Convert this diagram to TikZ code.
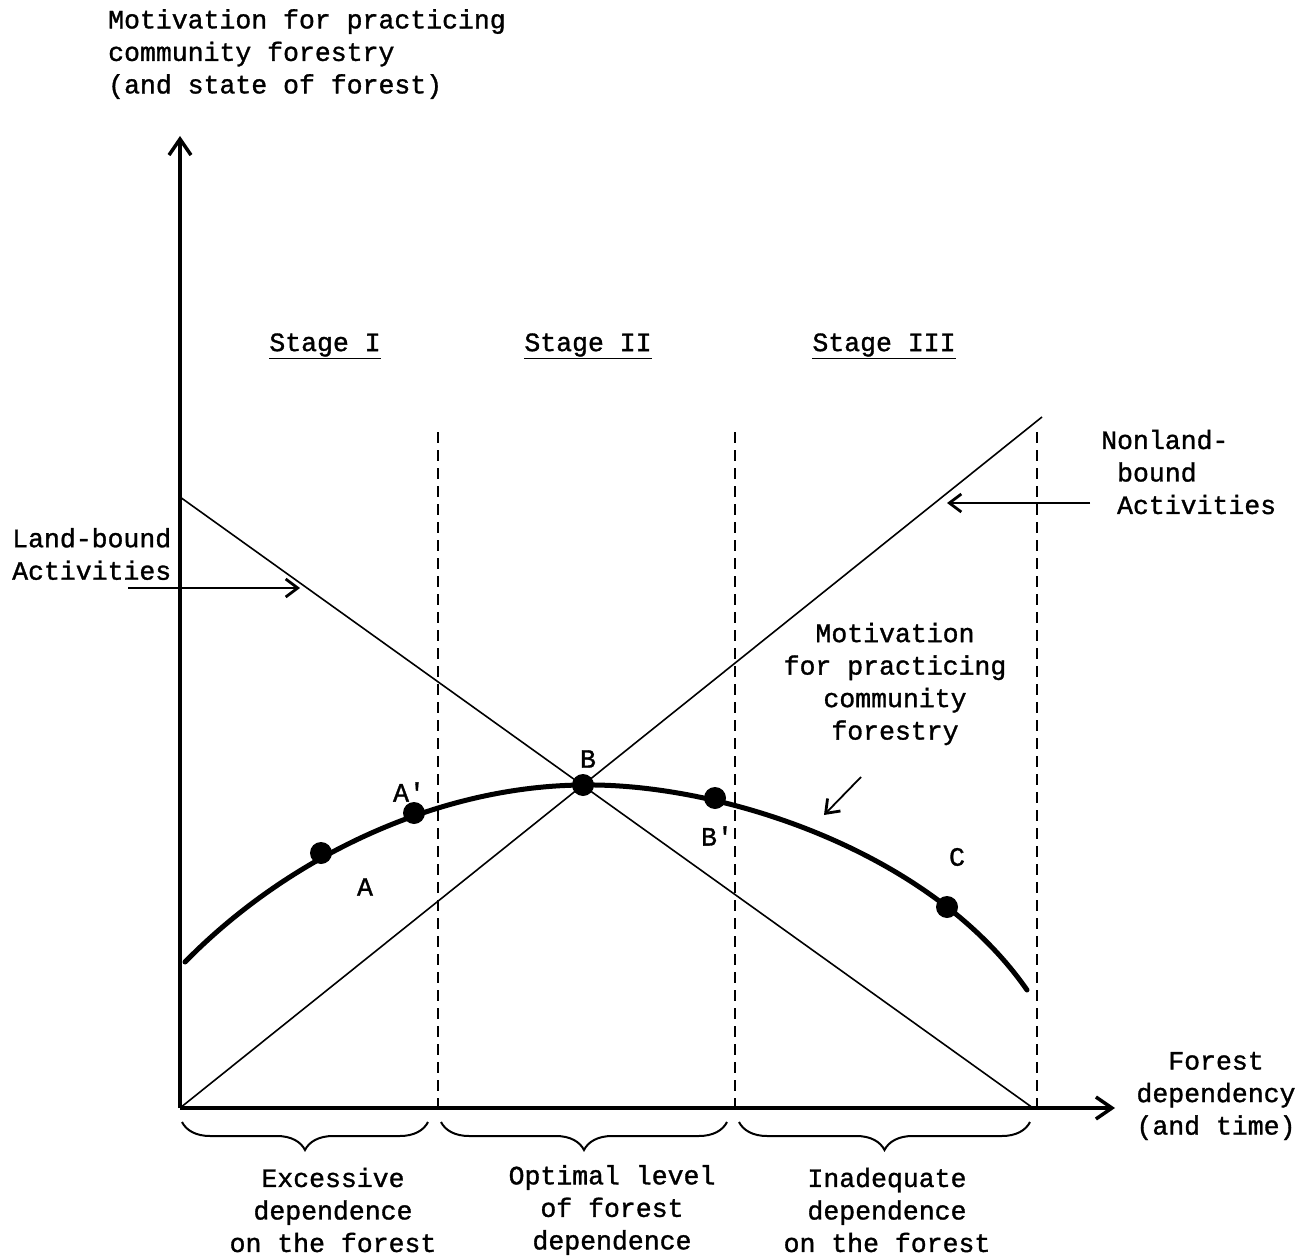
\documentclass[tikz,border=0pt]{standalone}
\usepackage{fontspec}
\setmonofont[FakeBold=1.2]{Liberation Mono}
\usetikzlibrary{arrows.meta,decorations.pathreplacing}
\begin{document}
\begin{tikzpicture}[x=1pt,y=-1pt,
  every node/.style={font=\ttfamily\fontsize{26.5}{32.5}\selectfont, inner sep=0pt},
  axis/.style={line width=3.5pt, -{Straight Barb[length=16pt,width=22pt,line width=3.5pt]}},
  thinline/.style={line width=1.6pt},
  dashline/.style={line width=1.6pt, dash pattern=on 11pt off 7pt},
  pointer/.style={line width=1.8pt, -{Straight Barb[length=12pt,width=18pt,line width=2.8pt]}},
  curveline/.style={line width=5pt, line cap=round},
  dotstyle/.style={circle, fill=black, minimum size=22pt, inner sep=0pt},
  lbl/.style={align=center},
  bracestyle/.style={line width=2pt, decorate, decoration={brace, mirror, amplitude=28pt}}
]
\useasboundingbox (0,0) rectangle (1307,1257);
% axes
\coordinate (O) at (180,1108);
\coordinate (ytip) at (180,136);
\coordinate (xtip) at (1115,1108);
\draw[axis] (O) -- (ytip);
\draw[axis] (O) -- (xtip);
% dashed stage borders
\coordinate (d1t) at (438,432); \coordinate (d1b) at (438,1108);
\coordinate (d2t) at (735,432); \coordinate (d2b) at (735,1108);
\coordinate (d3t) at (1037,432); \coordinate (d3b) at (1037,1108);
\draw[dashline] (d1t) -- (d1b);
\draw[dashline] (d2t) -- (d2b);
\draw[dashline] (d3t) -- (d3b);
% straight lines
\coordinate (lbs) at (180,497); \coordinate (lbe) at (1033,1108);
\coordinate (nls) at (180,1108); \coordinate (nle) at (1042,417);
\draw[thinline] (lbs) -- (lbe);
\draw[thinline] (nls) -- (nle);
% curve
\coordinate (cs) at (185,962);
\coordinate (cB) at (583,785);
\coordinate (ce) at (1027,990);
\draw[curveline] (cs) .. controls (290,855) and (440,786) .. (cB)
                      .. controls (720,783) and (930,850) .. (ce);
\node[dotstyle] (A) at (321,853) {};
\node[dotstyle] (Ap) at (414,813) {};
\node[dotstyle] (B) at (cB) {};
\node[dotstyle] (Bp) at (715,798) {};
\node[dotstyle] (C) at (947,907) {};
\node (lA) at (365,887) {A};
\node (lAp) at (409,792) {A'};
\node (lB) at (588,759) {B};
\node (lBp) at (717,836) {B'};
\node (lC) at (957,857) {C};
% labels
\node[anchor=north west, align=left] (ylab) at (108,9) {Motivation for practicing\\community forestry\\(and state of forest)};
\node[lbl] (xlab) at (1216,1096) {Forest\\dependency\\(and time)};
\node[align=left, anchor=west] (land) at (12,554) {Land-bound\\Activities};
\node[align=left, anchor=west] (nonland) at (1101,472) {Nonland-\\\ bound\\\ Activities};
\node[lbl] (mot) at (895,684) {Motivation\\for practicing\\community\\forestry};
% pointers
\coordinate (p1s) at (128,588); \coordinate (p1e) at (300,588);
\draw[pointer] (p1s) -- (p1e);
\coordinate (p2s) at (1090,503); \coordinate (p2e) at (947,503);
\draw[pointer] (p2s) -- (p2e);
\coordinate (p3s) at (861,777); \coordinate (p3e) at (824,815);
\draw[pointer] (p3s) -- (p3e);
% stages
\node (s1) at (325,346) {\underline{Stage I}};
\node (s2) at (588,346) {\underline{Stage II}};
\node (s3) at (884,346) {\underline{Stage III}};
% braces
\coordinate (b1s) at (182,1122); \coordinate (b1e) at (428,1122);
\coordinate (b2s) at (441,1122); \coordinate (b2e) at (727,1122);
\coordinate (b3s) at (739,1122); \coordinate (b3e) at (1030,1122);
\draw[bracestyle] (b1s) -- (b1e);
\draw[bracestyle] (b2s) -- (b2e);
\draw[bracestyle] (b3s) -- (b3e);
\node[lbl] (t1) at (333,1210) {Excessive\\dependence\\on the forest};
\node[lbl] (t2) at (612,1210) {Optimal level\\of forest\\dependence};
\node[lbl] (t3) at (887,1210) {Inadequate\\dependence\\on the forest};
\end{tikzpicture}
\end{document}
